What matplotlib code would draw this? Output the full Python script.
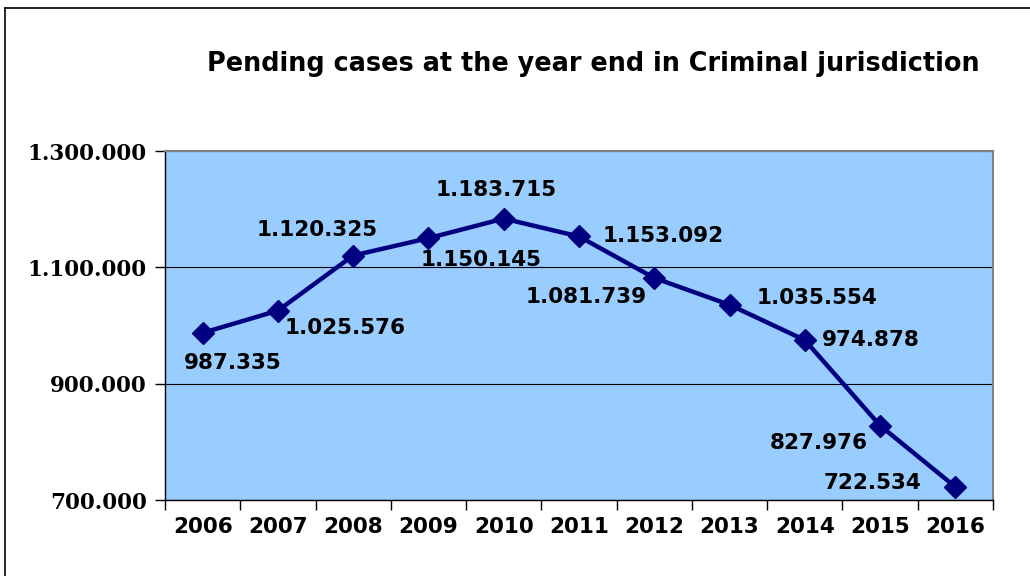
import matplotlib
matplotlib.use("Agg")
import matplotlib.pyplot as plt
from matplotlib.lines import Line2D

years = ["2006", "2007", "2008", "2009", "2010", "2011", "2012", "2013", "2014", "2015", "2016"]
values = [987335, 1025576, 1120325, 1150145, 1183715, 1153092, 1081739, 1035554, 974878, 827976, 722534]
labels = ["987.335", "1.025.576", "1.120.325", "1.150.145", "1.183.715", "1.153.092",
          "1.081.739", "1.035.554", "974.878", "827.976", "722.534"]
yticks = [700000, 900000, 1100000, 1300000]
ytick_labels = ["700.000", "900.000", "1.100.000", "1.300.000"]
title = "Pending cases at the year end in Criminal jurisdiction"

# label offsets in pixels (dx, dy up) and horizontal alignment
offsets = [(30, -30, "center"), (7, -17, "left"), (-36, 26, "center"), (53, -22, "center"),
           (-8, 29, "center"), (24, 0, "left"), (-8, -19, "right"), (27, 7, "left"),
           (17, 0, "left"), (-12, -17, "right"), (-34, 4, "right")]

W, H = 1030, 576
fig = plt.figure(figsize=(W / 100, H / 100), dpi=100)
fig.patch.set_facecolor("white")

# outer chart border (top and left visible)
fig.add_artist(Line2D([5 / W, 1], [1 - 8 / H, 1 - 8 / H], color="black", lw=1.2, transform=fig.transFigure))
fig.add_artist(Line2D([5 / W, 5 / W], [0, 1 - 8 / H], color="black", lw=1.2, transform=fig.transFigure))

ax = fig.add_axes([165 / W, 1 - 500 / H, (993 - 165) / W, (500 - 151) / H])
ax.set_facecolor("#99CCFF")

x = list(range(len(years)))
ax.plot(x, values, color="#000080", lw=3.2, marker="D", markersize=11,
        markerfacecolor="#000080", markeredgecolor="#000080", zorder=3, clip_on=False)

for xi, v, lab, (dx, dy, ha) in zip(x, values, labels, offsets):
    ax.annotate(lab, (xi, v), xytext=(dx, dy), textcoords="offset pixels",
                ha=ha, va="center", fontsize=15.5, fontweight="bold",
                family="DejaVu Sans", color="black", zorder=4)

ax.set_xlim(-0.5, len(years) - 0.5)
ax.set_ylim(700000, 1300000)
ax.set_yticks(yticks)
ax.set_yticklabels(ytick_labels, family="DejaVu Serif", fontweight="bold", fontsize=15.5)
ax.set_xticks(x)
ax.set_xticklabels(years, family="DejaVu Sans", fontweight="bold", fontsize=15.5)
ax.set_xticks([i - 0.5 for i in range(len(years) + 1)], minor=True)
ax.tick_params(axis="x", which="major", length=0, pad=12)
ax.tick_params(axis="x", which="minor", length=7, width=1, direction="out", color="black")
ax.tick_params(axis="y", length=7, width=1, direction="out", color="black", pad=6)

ax.grid(axis="y", color="black", lw=0.8)
ax.set_axisbelow(True)
for s in ["top", "right"]:
    ax.spines[s].set_color("#808080")
    ax.spines[s].set_linewidth(1.5)
for s in ["left", "bottom"]:
    ax.spines[s].set_color("black")
    ax.spines[s].set_linewidth(1)

fig.text(593 / W, 1 - 64 / H, title, ha="center", va="center", fontsize=18.4,
         fontweight="bold", family="DejaVu Sans")

fig.savefig("out.png", dpi=100)
